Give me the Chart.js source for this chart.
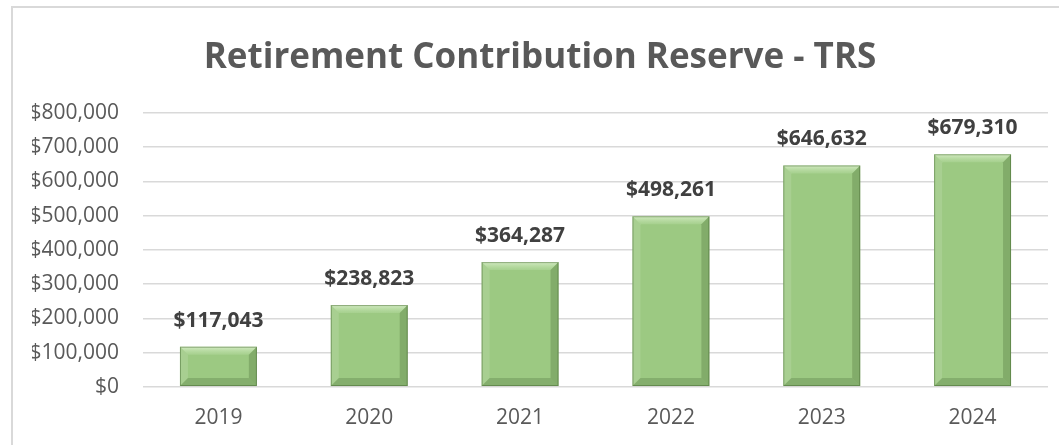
<!DOCTYPE html>
<html>
<head>
<meta charset="utf-8">
<script src="https://cdn.jsdelivr.net/npm/chart.js@4"></script>
<style>
  html, body { margin: 0; padding: 0; background: #fff; overflow: hidden; }
  #wrap { position: relative; width: 1059px; height: 445px; }
</style>
</head>
<body>
<div id="wrap"><canvas id="chart"></canvas></div>
<script>
const years = ['2019', '2020', '2021', '2022', '2023', '2024'];
const reserve = [117043, 238823, 364287, 498261, 646632, 679310];
const yTicks = [0, 100000, 200000, 300000, 400000, 500000, 600000, 700000, 800000];

const money = v => '$' + v.toLocaleString('en-US');

// gradient fill per bar, light at top, darker at base
function barFill(ctx) {
  const el = ctx.element;
  const c = ctx.chart.ctx;
  if (!el || el.base === undefined) return '#9cc982';
  const g = c.createLinearGradient(0, el.y, 0, el.base);
  g.addColorStop(0, '#a8d58e');
  g.addColorStop(1, '#86ae6d');
  return g;
}

// bevel edges and the value labels over each bar
const bevel = {
  id: 'bevel',
  afterDatasetsDraw(chart) {
    const c = chart.ctx;
    const meta = chart.getDatasetMeta(0);
    c.save();
    meta.data.forEach((bar, i) => {
      const l = bar.x - bar.width / 2, r = bar.x + bar.width / 2;
      const t = bar.y, b = bar.base, d = 8;
      // top facet
      const tg = c.createLinearGradient(0, t, 0, t + d);
      tg.addColorStop(0, 'rgba(220,240,205,0.85)');
      tg.addColorStop(1, 'rgba(190,225,170,0.3)');
      c.fillStyle = tg;
      c.beginPath();
      c.moveTo(l, t); c.lineTo(r, t); c.lineTo(r - d, t + d); c.lineTo(l + d, t + d);
      c.closePath(); c.fill();
      // left facet
      c.fillStyle = 'rgba(255,255,255,0.12)';
      c.beginPath();
      c.moveTo(l, t); c.lineTo(l + d, t + d); c.lineTo(l + d, b - d); c.lineTo(l, b);
      c.closePath(); c.fill();
      // right facet
      c.fillStyle = 'rgba(40,70,25,0.22)';
      c.beginPath();
      c.moveTo(r, t); c.lineTo(r - d, t + d); c.lineTo(r - d, b - d); c.lineTo(r, b);
      c.closePath(); c.fill();
      // bottom facet
      c.fillStyle = 'rgba(40,70,25,0.2)';
      c.beginPath();
      c.moveTo(l, b); c.lineTo(l + d, b - d); c.lineTo(r - d, b - d); c.lineTo(r, b);
      c.closePath(); c.fill();
      c.strokeStyle = 'rgba(60,95,40,0.45)';
      c.lineWidth = 1;
      c.strokeRect(l + 0.5, t + 0.5, bar.width - 1, b - t - 1);
      // value label
      c.fillStyle = '#404040';
      c.font = 'bold 21px "Open Sans"';
      c.textAlign = 'center';
      c.textBaseline = 'middle';
      c.fillText(money(reserve[i]), bar.x, t - 26);
    });
    c.restore();
  },
  beforeDraw(chart) {
    const c = chart.ctx;
    c.save();
    c.strokeStyle = '#d9d9d9';
    c.lineWidth = 2;
    c.beginPath();
    c.moveTo(12, 445); c.lineTo(12, 7); c.lineTo(1059, 7);
    c.stroke();
    c.restore();
  }
};

new Chart(document.getElementById('chart'), {
  type: 'bar',
  data: {
    labels: years,
    datasets: [{
      data: reserve,
      backgroundColor: barFill,
      borderWidth: 0,
      barPercentage: 1,
      categoryPercentage: 0.51
    }]
  },
  options: {
    responsive: true,
    maintainAspectRatio: false,
    animation: false,
    layout: { padding: { left: 32, right: 11, top: 0, bottom: 3 } },
    plugins: {
      legend: { display: false },
      tooltip: { enabled: false },
      title: {
        display: true,
        text: 'Retirement Contribution Reserve - TRS',
        color: '#595959',
        font: { family: 'Open Sans', size: 35, weight: 'bold' },
        padding: { top: 37, bottom: 34 }
      }
    },
    scales: {
      x: {
        grid: { display: false },
        border: { display: false },
        ticks: { color: '#595959', font: { family: 'Open Sans', size: 21 }, padding: 11 }
      },
      y: {
        min: 0,
        max: 800000,
        afterBuildTicks: s => { s.ticks = yTicks.map(v => ({ value: v })); },
        afterFit: s => { s.width = 111; },
        border: { display: false },
        grid: { color: '#d9d9d9', lineWidth: 1.5, drawTicks: false },
        ticks: {
          color: '#595959',
          font: { family: 'Open Sans', size: 21 },
          padding: 24,
          callback: v => money(v)
        }
      }
    }
  },
  plugins: [bevel]
});
</script>
</body>
</html>
